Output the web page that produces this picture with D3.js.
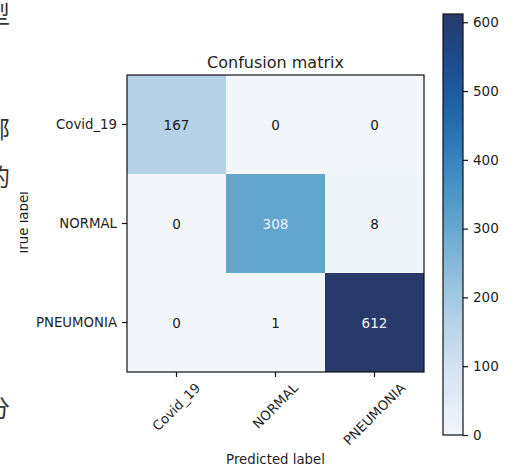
<!DOCTYPE html>
<html>
<head>
<meta charset="utf-8">
<script src="https://cdn.jsdelivr.net/npm/d3@7"></script>
<style>
  body { margin: 0; background: #fff; }
  text { font-family: "DejaVu Sans", sans-serif; fill: #1e1e1e; }
</style>
</head>
<body>
<div class="chart"></div>
<script>
// data
var classes = ["Covid_19", "NORMAL", "PNEUMONIA"];
var matrix = [
  [167, 0, 0],
  [0, 308, 8],
  [0, 1, 612]
];
var cbarTicks = [0, 100, 200, 300, 400, 500, 600];
// clipped document text at the left edge
var sideChars = ["型", "部", "的", "分"];
var sideBaselines = [23, 138, 186, 417];

var svgWidth = 530;
var svgHeight = 467;

var plot = { left: 127, top: 75, size: 297 };
var cbar = { left: 443, top: 14, width: 20, height: 421 };

var svg = d3.select(".chart")
  .append("svg")
  .attr("width", svgWidth)
  .attr("height", svgHeight);

var vmax = d3.max(matrix, r => d3.max(r));

// Blues-like colormap, tuned to the tones in the picture
var color = d3.scaleSequential(d3.interpolateRgbBasis(
  ["#f2f6fb", "#dce8f4", "#bcd5ea", "#94c0dc", "#62a5cc", "#3f8cc2", "#2169ad", "#1b4c90", "#283a6b"]))
  .domain([0, vmax]);

var x = d3.scaleBand().domain(classes).range([plot.left, plot.left + plot.size]);
var y = d3.scaleBand().domain(classes).range([plot.top, plot.top + plot.size]);

var cells = [];
matrix.forEach(function(row, i) {
  row.forEach(function(v, j) {
    cells.push({ t: classes[i], p: classes[j], v: v });
  });
});

// cells
svg.append("g").selectAll("rect")
  .data(cells)
  .enter()
  .append("rect")
  .attr("x", d => x(d.p))
  .attr("y", d => y(d.t))
  .attr("width", x.bandwidth())
  .attr("height", y.bandwidth())
  .attr("fill", d => color(d.v));

// cell values
svg.append("g").selectAll("text")
  .data(cells)
  .enter()
  .append("text")
  .attr("x", d => x(d.p) + x.bandwidth() / 2)
  .attr("y", d => y(d.t) + y.bandwidth() / 2)
  .attr("text-anchor", "middle")
  .attr("dominant-baseline", "central")
  .style("font-size", "13.5px")
  .style("fill", d => d.v > vmax / 2 ? "#eef4fb" : "#1a1a1a")
  .text(d => d.v);

// frame
svg.append("rect")
  .attr("x", plot.left)
  .attr("y", plot.top)
  .attr("width", plot.size)
  .attr("height", plot.size)
  .attr("fill", "none")
  .attr("stroke", "#111")
  .attr("stroke-width", 1.2);

// y ticks
var yTicks = svg.append("g");
classes.forEach(function(c) {
  var cy = y(c) + y.bandwidth() / 2;
  yTicks.append("line")
    .attr("x1", plot.left - 5).attr("x2", plot.left)
    .attr("y1", cy).attr("y2", cy)
    .attr("stroke", "#111").attr("stroke-width", 1.2);
  yTicks.append("text")
    .attr("x", plot.left - 10)
    .attr("y", cy)
    .attr("text-anchor", "end")
    .attr("dominant-baseline", "central")
    .style("font-size", "13.3px")
    .text(c);
});

// x ticks, labels rotated 45 and centred under the tick
var xTicks = svg.append("g");
var tickBottom = plot.top + plot.size + 5;
classes.forEach(function(c) {
  var cx = x(c) + x.bandwidth() / 2;
  xTicks.append("line")
    .attr("x1", cx).attr("x2", cx)
    .attr("y1", plot.top + plot.size).attr("y2", tickBottom)
    .attr("stroke", "#111").attr("stroke-width", 1.2);
  var t = xTicks.append("text")
    .attr("text-anchor", "middle")
    .attr("dominant-baseline", "central")
    .style("font-size", "13.3px")
    .text(c);
  var len = t.node().getComputedTextLength();
  var h = 10;
  var cyText = tickBottom + 5 + (len + h) * Math.SQRT1_2 / 2;
  t.attr("transform", `translate(${cx}, ${cyText}) rotate(-45)`);
});

// title and axis labels
svg.append("text")
  .attr("x", plot.left + plot.size / 2)
  .attr("y", 68)
  .attr("text-anchor", "middle")
  .style("font-size", "16px")
  .text("Confusion matrix");

svg.append("text")
  .attr("x", plot.left + plot.size / 2)
  .attr("y", 464)
  .attr("text-anchor", "middle")
  .style("font-size", "13.3px")
  .text("Predicted label");

svg.append("text")
  .attr("transform", `translate(28, ${plot.top + plot.size / 2}) rotate(-90)`)
  .attr("text-anchor", "middle")
  .style("font-size", "13.3px")
  .text("True label");

// colorbar
var defs = svg.append("defs");
var grad = defs.append("linearGradient")
  .attr("id", "cbar-grad")
  .attr("x1", "0").attr("y1", "1").attr("x2", "0").attr("y2", "0");
d3.range(0, 1.0001, 0.05).forEach(function(f) {
  grad.append("stop")
    .attr("offset", f)
    .attr("stop-color", color(f * vmax));
});

var cScale = d3.scaleLinear()
  .domain([0, vmax])
  .range([cbar.top + cbar.height, cbar.top]);

svg.append("rect")
  .attr("x", cbar.left)
  .attr("y", cbar.top)
  .attr("width", cbar.width)
  .attr("height", cbar.height)
  .attr("fill", "url(#cbar-grad)")
  .attr("stroke", "#111")
  .attr("stroke-width", 1.2);

var cAxis = svg.append("g")
  .attr("transform", `translate(${cbar.left + cbar.width}, 0)`)
  .call(d3.axisRight(cScale).tickValues(cbarTicks).tickSize(5).tickPadding(5));
cAxis.select(".domain").remove();
cAxis.selectAll("line").attr("stroke", "#111").attr("stroke-width", 1.2);
cAxis.selectAll("text")
  .style("font-size", "13.5px")
  .style("font-family", "DejaVu Sans, sans-serif")
  .attr("fill", "#1e1e1e");

// white page margin overlapping the figure, with clipped document text
svg.append("rect")
  .attr("x", 0).attr("y", 0)
  .attr("width", 20).attr("height", svgHeight)
  .attr("fill", "#fff");

svg.append("g").selectAll("text")
  .data(sideChars)
  .enter()
  .append("text")
  .attr("x", 10)
  .attr("y", (d, i) => sideBaselines[i])
  .attr("text-anchor", "end")
  .style("font-family", "Noto Sans CJK SC")
  .style("font-size", "24px")
  .style("fill", "#333")
  .text(d => d);
</script>
</body>
</html>
